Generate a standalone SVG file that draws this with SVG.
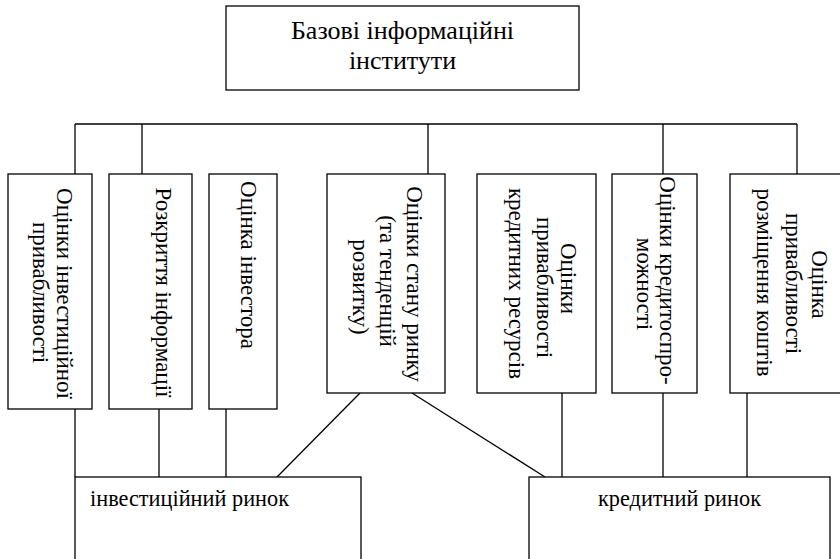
<svg xmlns="http://www.w3.org/2000/svg" width="840" height="559" viewBox="0 0 840 559">
<style>
rect{fill:#fff;stroke:#000;stroke-width:1.3}
line{stroke:#000;stroke-width:1.3}
text{font-family:"Liberation Serif","Times New Roman",serif;fill:#000}
.v{font-size:23px;text-anchor:middle}
.h{font-size:22.3px}
.t{font-size:26px;text-anchor:middle}
</style>
<rect width="840" height="559" style="stroke:none"/>
<g id="connectors">
<line x1="75" y1="124" x2="797" y2="124"/>
<line x1="75" y1="124" x2="75" y2="174"/>
<line x1="142" y1="124" x2="142" y2="174"/>
<line x1="428" y1="124" x2="428" y2="174"/>
<line x1="663" y1="124" x2="663" y2="174"/>
<line x1="797" y1="124" x2="797" y2="174"/>
<line x1="75" y1="409" x2="75" y2="477"/>
<line x1="159" y1="409" x2="159" y2="477"/>
<line x1="226" y1="409" x2="226" y2="477"/>
<line x1="360" y1="393" x2="277" y2="477"/>
<line x1="412" y1="393" x2="545" y2="477"/>
<line x1="562" y1="393" x2="562" y2="477"/>
<line x1="663" y1="393" x2="663" y2="477"/>
<line x1="747" y1="393" x2="747" y2="477"/>
</g>
<g id="top">
<rect x="226" y="6" width="353" height="84"/>
<text class="t" x="402.5" y="39">Базові інформаційні</text>
<text class="t" x="402.5" y="69">інститути</text>
</g>
<g id="n1">
<rect x="8" y="174" width="84" height="235"/>
<text class="v" transform="translate(57,293.5) rotate(90)">Оцінки інвестиційної</text>
<text class="v" transform="translate(33,292.5) rotate(90)">привабливості</text>
</g>
<g id="n2">
<rect x="109" y="174" width="83" height="235"/>
<text class="v" transform="translate(156,292.5) rotate(90)">Розкриття інформації</text>
</g>
<g id="n3">
<rect x="209" y="174" width="68" height="235"/>
<text class="v" transform="translate(241,265) rotate(90)">Оцінка інвестора</text>
</g>
<g id="n4">
<rect x="327" y="174" width="118" height="219"/>
<text class="v" transform="translate(407,284) rotate(90)">Оцінки стану ринку</text>
<text class="v" transform="translate(380,281) rotate(90)">(та тенденцій</text>
<text class="v" transform="translate(353,287) rotate(90)">розвитку)</text>
</g>
<g id="n5">
<rect x="477" y="174" width="119" height="219"/>
<text class="v" transform="translate(561,278.5) rotate(90)">Оцінки</text>
<text class="v" transform="translate(537,287.5) rotate(90)">привабливості</text>
<text class="v" transform="translate(509,283.5) rotate(90)">кредитних ресурсів</text>
</g>
<g id="n6">
<rect x="612" y="174" width="85" height="219"/>
<text class="v" transform="translate(660,280.5) rotate(90)">Оцінки кредитоспро-</text>
<text class="v" transform="translate(637,284) rotate(90)">можності</text>
</g>
<g id="n7">
<rect x="730" y="174" width="130" height="219"/>
<text class="v" transform="translate(812,284.5) rotate(90)">Оцінка</text>
<text class="v" transform="translate(786,283.5) rotate(90)">привабливості</text>
<text class="v" transform="translate(757,282.5) rotate(90)">розміщення коштів</text>
</g>
<g id="invest">
<rect x="75" y="477" width="286" height="100"/>
<text class="h" x="90" y="506">інвестиційний ринок</text>
</g>
<g id="credit">
<rect x="529" y="477" width="301" height="100"/>
<text class="h" x="679.5" y="506" text-anchor="middle">кредитний ринок</text>
</g>
</svg>
